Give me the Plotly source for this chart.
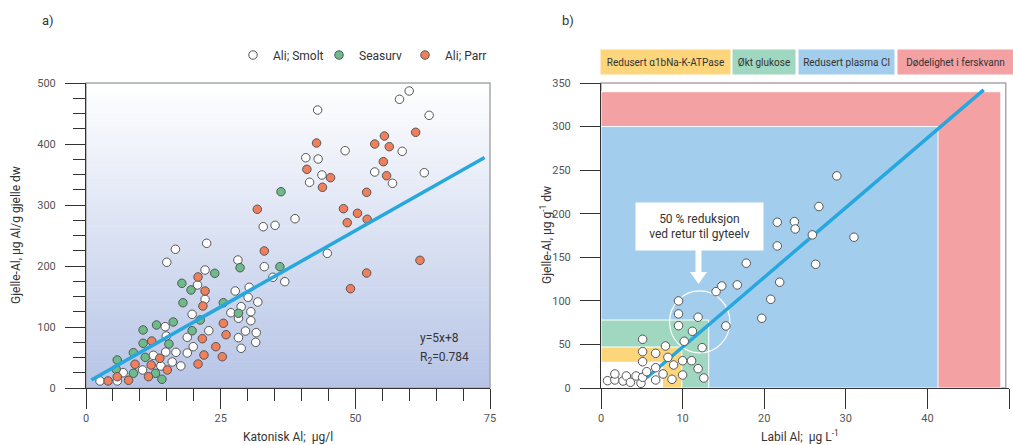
import plotly.graph_objects as go

W, H = 1013, 445
def px(x): return x / W
def py(y): return 1 - y / H

# ---------------- Data: panel a ----------------
smolt_x = [2.6, 5.8, 6.9, 10.5, 12.5, 13.9, 16.0, 16.7, 14.8, 14.9, 14.7, 17.6, 18.8, 18.8, 19.9, 19.7,
           22.8, 22.1, 20.7, 22.1, 15.0, 16.6, 22.4, 26.9, 28.3, 28.8, 27.7, 28.2, 33.1, 34.7, 36.9,
           30.3, 30.1, 31.9, 30.6, 30.6, 29.6, 31.6, 31.5, 28.3, 28.8, 44.8, 32.9, 35.1, 38.8, 41.5,
           40.8, 43.1, 43.8, 43.0, 48.1, 53.6, 56.9, 58.7, 62.8, 60.0, 58.2, 63.7]
smolt_y = [11.5, 11.5, 25.1, 29.5, 53.6, 36.1, 42.6, 58.5, 59.0, 85.2, 100.5, 36.1, 57.4, 83.1, 67.7, 120.8,
           93.9, 145.4, 168.9, 193.4, 206.1, 227.4, 237.2, 123.4, 114.3, 133.3, 159.0, 209.8, 198.9, 181.5, 174.3,
           165.1, 148.7, 141.0, 125.1, 110.3, 93.4, 90.7, 74.9, 82.5, 65.1, 220.8, 264.4, 266.7, 277.5, 337.2,
           377.5, 375.4, 349.2, 455.7, 389.0, 354.1, 335.6, 388.0, 352.9, 486.9, 473.3, 447.0]

seasurv_x = [5.8, 5.6, 8.8, 8.8, 10.6, 10.6, 11.0, 12.9, 14.1, 15.4, 13.1, 16.2, 19.7, 21.2, 23.9, 19.5,
             17.8, 18.0, 25.5, 28.3, 28.6, 36.0, 36.2]
seasurv_y = [45.9, 30.7, 24.1, 57.9, 73.3, 95.1, 50.3, 24.1, 14.3, 72.1, 103.3, 108.2, 93.9, 111.5, 188.0, 160.7,
             171.6, 139.8, 139.8, 122.5, 197.2, 198.9, 321.8]

parr_x = [4.1, 5.8, 7.9, 9.1, 12.2, 12.1, 11.6, 13.7, 15.1, 20.8, 21.9, 21.6, 21.7, 22.1, 20.8, 25.5, 24.1,
          26.0, 25.3, 33.1, 31.8, 42.8, 41.0, 43.9, 45.4, 55.4, 53.6, 56.3, 61.2, 55.2, 55.8, 52.1, 47.8,
          50.4, 48.5, 52.2, 62.0, 52.1, 49.1]
parr_y = [11.5, 18.5, 12.6, 38.9, 77.0, 37.7, 18.5, 48.7, 29.5, 39.3, 54.1, 80.8, 134.4, 159.0, 182.0, 106.1, 67.7,
          87.4, 51.3, 224.6, 293.0, 401.6, 358.5, 329.0, 344.8, 413.1, 400.0, 395.6, 419.2, 371.0, 348.0, 320.8, 293.9,
          286.4, 271.0, 276.6, 209.3, 188.5, 162.8]

fit_a_slope, fit_a_intercept = 5, 8
fit_a_x = [1, 74]

# ---------------- Data: panel b ----------------
labil_x = [0.8, 1.7, 1.7, 2.7, 3.1, 3.6, 4.3, 4.9, 5.1, 5.6, 6.7, 6.7, 7.6, 8.7, 8.9, 8.2, 7.9, 6.7, 5.1, 5.1,
           5.1, 10.0, 10.0, 11.1, 11.9, 12.6, 10.2, 11.2, 12.4, 9.5, 9.5, 9.5, 11.9, 15.3, 14.1, 14.8, 28.9,
           26.7, 21.6, 23.7, 23.8, 25.9, 31.0, 21.6, 17.8, 26.3, 21.9, 16.7, 20.8, 19.7]
labil_y = [8.4, 9.2, 16.1, 8.0, 13.8, 6.5, 13.8, 5.4, 12.3, 18.7, 9.2, 23.3, 16.1, 10.0, 26.4, 35.2, 48.2, 39.8, 30.2, 41.7,
           55.9, 31.3, 14.9, 31.3, 22.2, 11.5, 53.6, 65.1, 46.3, 71.5, 85.0, 99.9, 81.2, 71.2, 110.6, 117.1, 243.4,
           208.2, 190.2, 190.9, 182.5, 175.7, 173.0, 163.0, 143.2, 142.0, 121.4, 118.3, 101.8, 80.0]

fit_b_slope, fit_b_intercept = 8.0, -33
fit_b_x = [5.6, 46.9]

# effect zones
zone_labels = ["Redusert α1bNa-K-ATPase", "Økt glukose", "Redusert plasma Cl", "Dødelighet i ferskvann"]
zone_xmax = [9.9, 13.2, 41.3, 49.0]
zone_ymax = [47, 78, 300, 340]
zone_colors = ["#fdd67c", "#a0d7c0", "#a3cdec", "#f4a1a4"]
safe_xmax, safe_ymax = 7.6, 30

DARK = "#333333"
FONT = "Roboto"
LINE_BLUE = "#27a7df"

fig = go.Figure()

mk_line = dict(color="#555555", width=1)
fig.add_trace(go.Scatter(x=smolt_x, y=smolt_y, mode="markers", name="Ali; Smolt",
                         marker=dict(size=8.5, color="white", line=mk_line), xaxis="x", yaxis="y"))
fig.add_trace(go.Scatter(x=seasurv_x, y=seasurv_y, mode="markers", name="Seasurv",
                         marker=dict(size=8.5, color="#6dbb8a", line=mk_line), xaxis="x", yaxis="y"))
fig.add_trace(go.Scatter(x=parr_x, y=parr_y, mode="markers", name="Ali; Parr",
                         marker=dict(size=8.5, color="#f07f5c", line=mk_line), xaxis="x", yaxis="y"))
fig.add_trace(go.Scatter(x=fit_a_x, y=[fit_a_slope * v + fit_a_intercept for v in fit_a_x], mode="lines",
                         line=dict(color=LINE_BLUE, width=3.5), showlegend=False, xaxis="x", yaxis="y"))

fig.add_trace(go.Scatter(x=fit_b_x, y=[fit_b_slope * v + fit_b_intercept for v in fit_b_x], mode="lines",
                         line=dict(color=LINE_BLUE, width=3.5), showlegend=False, xaxis="x2", yaxis="y2"))
fig.add_trace(go.Scatter(x=labil_x, y=labil_y, mode="markers", showlegend=False,
                         marker=dict(size=8.5, color="white", line=mk_line), xaxis="x2", yaxis="y2"))

shapes = []
N = 70
top = (255, 255, 255)
bot = (182, 196, 230)
for i in range(N):
    t = (i + 0.5) / N
    c = tuple(round(bot[k] + (top[k] - bot[k]) * t) for k in range(3))
    shapes.append(dict(type="rect", xref="x domain", yref="y domain", x0=0, x1=1,
                       y0=i / N, y1=(i + 1) / N + 0.002, fillcolor="rgb(%d,%d,%d)" % c,
                       line=dict(width=0), layer="below"))
shapes.append(dict(type="rect", xref="x domain", yref="y domain", x0=0, x1=1, y0=0, y1=1,
                   line=dict(color="#a8a8a8", width=1.5), layer="below"))
shapes.append(dict(type="rect", xref="x2 domain", yref="y2 domain", x0=0, x1=0.992, y0=0, y1=1,
                   line=dict(color="#a8a8a8", width=1.5), fillcolor="white", layer="below"))
for xm, ym, col in reversed(list(zip(zone_xmax, zone_ymax, zone_colors))):
    shapes.append(dict(type="rect", xref="x2", yref="y2", x0=0, x1=xm, y0=0, y1=ym,
                       fillcolor=col, line=dict(color="white", width=1), layer="below"))
shapes.append(dict(type="rect", xref="x2", yref="y2", x0=0, x1=safe_xmax, y0=0, y1=safe_ymax,
                   fillcolor="white", line=dict(width=0), layer="below"))
shapes.append(dict(type="circle", xref="x2", yref="y2", x0=12.1 - 3.7, x1=12.1 + 3.7,
                   y0=75.8 - 35.6, y1=75.8 + 35.6, line=dict(color="white", width=1.2), layer="below"))
shapes.append(dict(type="rect", xref="paper", yref="paper", x0=px(695.5), x1=px(701.5),
                   y0=py(273), y1=py(249), fillcolor="white", line=dict(width=0)))
shapes.append(dict(type="path", xref="paper", yref="paper",
                   path="M %f,%f L %f,%f L %f,%f Z" % (px(690), py(272), px(707), py(272), px(698.5), py(284)),
                   fillcolor="white", line=dict(width=0)))

ann = []
def text(t, x, y, size=12, **kw):
    d = dict(text=t, x=px(x), y=py(y), xref="paper", yref="paper", showarrow=False,
             xanchor="center", yanchor="middle",
             font=dict(size=size, color=DARK, family=FONT))
    d.update(kw)
    ann.append(d)

text("a)", 40, 20, 13, xanchor="left")
text("b)", 560, 20, 13, xanchor="left")
text("Katonisk Al;  µg/l", 288, 437)
text("Labil Al;  µg L<sup>-1</sup>", 800, 436)
text("Gjelle-Al, µg Al/g gjelle dw", 16, 235, textangle=-90)
text("Gjelle-Al, µg g<sup>-1</sup> dw", 546, 235, textangle=-90)
text("y=5x+8", 418, 338, xanchor="left")
text("R<sub>2</sub>=0.784", 418, 358, xanchor="left")
text("50 % reduksjon<br>ved retur til gyteelv", 699.5, 226.5, bgcolor="white", width=127, height=47, borderpad=0)
box_left = [601, 733, 799, 898]
box_right = [730, 795, 894, 1013]
for lab, l, r, col in zip(zone_labels, box_left, box_right, zone_colors):
    text(lab, (l + r) / 2, 62, 10, bgcolor=col, width=r - l, height=24, borderpad=0)

axis_common = dict(showgrid=False, zeroline=False, showline=True, linecolor=DARK, linewidth=1,
                   ticks="outside", ticklen=20, tickcolor=DARK, tickwidth=1, automargin=False,
                   tickfont=dict(size=11, color="#555555", family=FONT))

fig.update_layout(
    width=W, height=H, margin=dict(l=0, r=0, t=0, b=0, autoexpand=False),
    paper_bgcolor="white", plot_bgcolor="white",
    xaxis=dict(domain=[px(86), px(490)], range=[0, 75], dtick=25, anchor="y",
               minor=dict(dtick=5, ticks="outside", ticklen=12, tickcolor=DARK), **axis_common),
    yaxis=dict(domain=[py(388), py(83)], range=[0, 500], dtick=100, anchor="x", ticklabelstandoff=7,
               minor=dict(dtick=25, ticks="outside", ticklen=12, tickcolor=DARK), **axis_common),
    xaxis2=dict(domain=[px(601), px(1009)], range=[0, 50], dtick=10, anchor="y2", **axis_common),
    yaxis2=dict(domain=[py(388), py(83)], range=[0, 350], dtick=50, anchor="x2", ticklabelstandoff=7,
                **axis_common),
    shapes=shapes, annotations=ann,
    legend=dict(orientation="h", x=px(233), y=py(55), xanchor="left", yanchor="middle",
                font=dict(size=12, color=DARK, family=FONT), bgcolor="rgba(0,0,0,0)",
                itemwidth=30, entrywidth=41, traceorder="normal"),
    font=dict(family=FONT, color=DARK),
)

fig.write_html("out.html", config={"displayModeBar": False},
               post_script="document.body.style.margin='0px';")
